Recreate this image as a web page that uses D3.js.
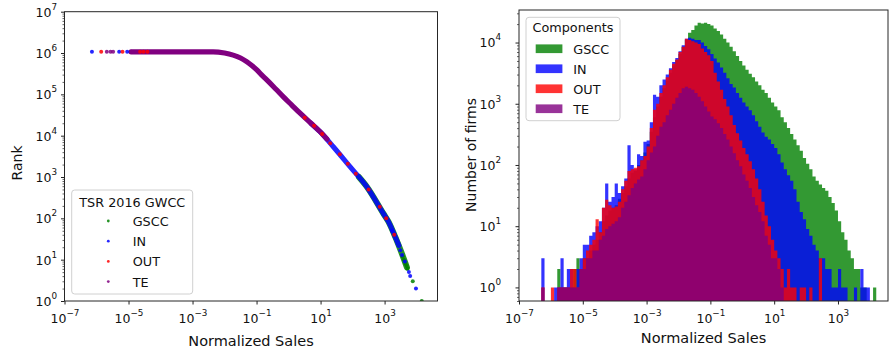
<!DOCTYPE html>
<html>
<head>
<meta charset="utf-8">
<script src="https://cdn.jsdelivr.net/npm/d3@7"></script>
<style>
body { margin: 0; background: #fff; }
svg { display: block; font-family: "DejaVu Sans", sans-serif; }
</style>
</head>
<body>
<svg id="chart" width="890" height="352"></svg>
<script>
// ---------- data ----------
const components = ["GSCC", "IN", "OUT", "TE"];
const xTickExps = [-7, -5, -3, -1, 1, 3];
const rankTickExps = [0, 1, 2, 3, 4, 5, 6, 7];
const firmTickExps = [0, 1, 2, 3, 4];

// left panel, [normalized sales, rank]; the dense parts of the cloud are bands
const teBand = [[1.2e-5, 1.07e6], [4.4e-3, 1.07e6], [0.01, 1.0e6], [0.0186, 8.9e5], [0.0316, 7.6e5],
  [0.049, 6.2e5], [0.071, 5.0e5], [0.102, 3.9e5], [0.141, 3.0e5], [0.209, 2.24e5], [0.398, 1.35e5],
  [0.69, 8.7e4], [1.26, 5.5e4], [2.29, 3.5e4], [5.0, 2.0e4], [9.5, 1.26e4], [15.8, 8300]];
const inBand = [[5.0, 2.0e4], [9.5, 1.26e4], [25, 5400], [83, 1780], [275, 590], [910, 132],
  [1320, 83], [2140, 36], [2800, 22]];
const gsccBand = [[158, 1000], [275, 590], [910, 132], [1320, 83], [2140, 36], [3470, 14], [5000, 6.5]];
const gsccDots = [[14500, 1], [7600, 3], [5200, 6], [4900, 7], [4500, 8], [4000, 10], [3700, 12]];
const inDots = [[7.2e-7, 1.07e6], [5.1e-6, 1.07e6], [9.1e-6, 1.07e6], [9550, 2], [6300, 4], [5750, 5],
  [4300, 9], [3500, 13], [3100, 17], [1700, 50]];
const outDots = [[1.4e-6, 1.07e6], [6.5e-6, 1.07e6], [2.3e-5, 1.07e6], [2.95e-5, 1.07e6], [3.9e-5, 1.07e6],
  [3.2, 27000], [6.3, 17400], [11.2, 11000], [20, 6600], [40, 3550], [71, 2090], [126, 1200],
  [316, 500], [708, 190], [1120, 100], [2000, 40]];
const teDots = [[2.1e-6, 1.07e6], [2.75e-6, 1.07e6], [3.3e-6, 1.07e6], [1.2e-5, 1.07e6]];

// right panel: histogram counts, bins of 0.1 decade starting at 10^-6.3
const binLo = -6.3, binWidth = 0.1;
const gsccCounts = [0,0,0,0,0,2,1,1,1,1,
  2,3,2,3,3,4,5,6,8,12,
  15,18,20,22,28,35,45,60,75,80,
  100,120,160,220,350,600,900,1300,1800,2400,
  3200,4200,5200,6500,8500,11000,14500,16000,19000,21000,
  20500,21000,20000,19000,17000,15500,13500,11500,10000,8500,
  7200,6000,5000,4200,3600,3100,2700,2300,2000,1700,
  1500,1250,1050,900,780,600,500,400,320,260,
  210,170,130,105,85,65,55,48,42,38,
  30,24,18,12,8,6,4,3,2,2,
  1,1,0,0,1];
const inCounts = [3,0,0,0,1,1,3,1,2,2,
  1,2,3,5,5,7,8,10,12,20,
  50,25,30,50,35,45,60,210,100,85,
  150,140,240,250,500,1400,1300,2000,2500,3000,
  3800,4800,5600,7200,9000,11500,12000,11500,11000,11000,
  10000,8800,7800,6500,5500,4700,3900,3200,2600,2100,
  1850,1500,1250,1050,900,780,650,520,420,340,
  290,260,220,190,150,110,85,68,55,40,
  25,17,13,9,7,5,4,3,3,2,
  2,1,1,2,1,1,0,0,1,0,
  2,1,1,0,0];
const outCounts = [1,0,0,1,0,1,1,1,1,2,
  2,1,2,3,4,5,6,13,8,20,
  27,22,20,21,25,40,55,80,85,90,
  95,120,140,200,400,800,1000,1500,2000,2700,
  3600,4500,5300,7000,8500,11500,11000,10500,10000,9500,
  8000,7000,6200,5000,3200,2300,1700,1200,900,650,
  450,330,250,190,150,115,85,60,40,25,
  15,10,6,4,3,2,1,2,1,1,
  0,1,1,0,1,0,0,3,0,0,
  0,0,0,0,0,0,0,0,0,0,
  0,0,0,0,0];
const teCounts = [1,0,0,0,0,1,1,1,1,1,
  1,1,2,2,3,3,4,4,6,7,
  9,10,11,12,14,20,25,32,42,50,
  58,65,85,120,160,200,300,420,500,650,
  800,1000,1250,1500,1800,1900,1800,1700,1500,1300,
  1100,900,750,620,560,480,400,320,260,200,
  155,120,95,70,55,42,30,22,17,12,
  7,5,3,3,2,1,0,0,0,0,
  0,0,0,0,0,0,0,0,0,0,
  0,0,0,0,0,0,0,0,0,0,
  0,0,0,0,0];

// ---------- drawing ----------
const colors = {GSCC: "#008000", IN: "#0000ff", OUT: "#ff0000", TE: "#800080"};
const svg = d3.select("#chart");

const L = {x0: 64.5, x1: 437.5, y0: 11.7, y1: 301};
const R = {x0: 519, x1: 888, y0: 10, y1: 301};

const xL = d3.scaleLog().domain([1e-7, 4.5e4]).range([L.x0, L.x1]);
const yL = d3.scaleLog().domain([1, 1e7]).range([L.y1, L.y0]);
const xR = d3.scaleLog().domain([1e-7, 3.7e4]).range([R.x0, R.x1]);
const yR = d3.scaleLog().domain([0.6, 3.4e4]).range([R.y1, R.y0]);

const defs = svg.append("defs");
[["clipL", L], ["clipR", R]].forEach(([id, p]) => {
  defs.append("clipPath").attr("id", id).append("rect")
    .attr("x", p.x0).attr("y", p.y0).attr("width", p.x1 - p.x0).attr("height", p.y1 - p.y0);
});

function powLabel(text, exp) {
  text.text(null);
  text.append("tspan").text("10");
  text.append("tspan").attr("dy", -7).attr("font-size", 8.8)
    .text(exp < 0 ? "\u2212" + (-exp) : exp);
}

function minorValues(scale) {
  const [lo, hi] = scale.domain();
  const out = [];
  for (let d = Math.floor(Math.log10(lo)); d <= Math.ceil(Math.log10(hi)); d++) {
    for (let m = 2; m <= 9; m++) {
      const v = m * Math.pow(10, d);
      if (v >= lo && v <= hi) out.push(v);
    }
  }
  return out;
}

function drawAxes(p, x, y, yExps, labelGap, xTitle, yTitle, xTitleY, yTitlePos) {
  const gx = svg.append("g").attr("transform", `translate(0,${p.y1})`)
    .call(d3.axisBottom(x).tickValues(xTickExps.map(e => Math.pow(10, e))).tickSize(3.5).tickFormat(() => ""));
  gx.attr("font-size", null).attr("font-family", null);
  gx.select(".domain").remove();
  gx.selectAll(".tick line").attr("stroke", "#222");
  gx.selectAll(".tick text").attr("y", 21.5).attr("dy", null).attr("font-size", 12.5).attr("fill", "#111")
    .each(function (d) { powLabel(d3.select(this), Math.round(Math.log10(d))); });

  const gy = svg.append("g").attr("transform", `translate(${p.x0},0)`)
    .call(d3.axisLeft(y).tickValues(yExps.map(e => Math.pow(10, e))).tickSize(3.5).tickFormat(() => ""));
  gy.attr("font-size", null).attr("font-family", null);
  gy.select(".domain").remove();
  gy.selectAll(".tick line").attr("stroke", "#222");
  gy.selectAll(".tick text").attr("x", -labelGap).attr("dy", "0.35em").attr("font-size", 12.5).attr("fill", "#111")
    .each(function (d) { powLabel(d3.select(this), Math.round(Math.log10(d))); });

  const gm = svg.append("g").attr("transform", `translate(${p.x0},0)`)
    .call(d3.axisLeft(y).tickValues(minorValues(y)).tickSize(2).tickFormat(() => ""));
  gm.select(".domain").remove();
  gm.selectAll(".tick line").attr("stroke", "#222").attr("stroke-width", 0.7);

  svg.append("rect").attr("x", p.x0).attr("y", p.y0)
    .attr("width", p.x1 - p.x0).attr("height", p.y1 - p.y0)
    .attr("fill", "none").attr("stroke", "#262626").attr("stroke-width", 1);

  svg.append("text").attr("x", (p.x0 + p.x1) / 2).attr("y", xTitleY)
    .attr("text-anchor", "middle").attr("font-size", 14.5).attr("fill", "#111").text(xTitle);
  svg.append("text").attr("transform", `translate(${yTitlePos[0]},${yTitlePos[1]}) rotate(-90)`)
    .attr("text-anchor", "middle").attr("font-size", 14).attr("fill", "#111").text(yTitle);
}

// ---- left: rank vs sales ----
const gL = svg.append("g").attr("clip-path", "url(#clipL)");
const bandLine = d3.line().x(d => xL(d[0])).y(d => yL(d[1])).curve(d3.curveMonotoneX);
[[gsccBand, "GSCC", 6], [inBand, "IN", 5], [teBand, "TE", 5.2]].forEach(([pts, k, w]) => {
  gL.append("path").attr("d", bandLine(pts)).attr("fill", "none")
    .attr("stroke", colors[k]).attr("stroke-opacity", k === "TE" ? 1 : 0.85)
    .attr("stroke-width", w).attr("stroke-linecap", "round");
});
[[gsccDots, "GSCC"], [inDots, "IN"], [outDots, "OUT"], [teDots, "TE"]].forEach(([pts, k]) => {
  gL.selectAll(null).data(pts).enter().append("circle")
    .attr("cx", d => xL(d[0])).attr("cy", d => yL(d[1])).attr("r", 2)
    .attr("fill", colors[k]).attr("fill-opacity", 0.85);
});

drawAxes(L, xL, yL, rankTickExps, 7.5, "Normalized Sales", "Rank", 346, [21.5, 163]);

// legend left
const lgL = svg.append("g");
lgL.append("rect").attr("x", 71.7).attr("y", 190).attr("width", 121).attr("height", 104).attr("rx", 3)
  .attr("fill", "#fff").attr("fill-opacity", 0.8).attr("stroke", "#d0d0d0");
lgL.append("text").attr("x", 132.3).attr("y", 206.5).attr("text-anchor", "middle")
  .attr("font-size", 12.8).attr("fill", "#111").text("TSR 2016 GWCC");
components.forEach((k, i) => {
  const cy = 221 + 20.2 * i;
  lgL.append("circle").attr("cx", 108.3).attr("cy", cy).attr("r", 1.4).attr("fill", colors[k]).attr("fill-opacity", 0.85);
  lgL.append("text").attr("x", 132.7).attr("y", cy + 5).attr("font-size", 12.8).attr("fill", "#111").text(k);
});

// ---- right: histograms ----
const gR = svg.append("g").attr("clip-path", "url(#clipR)");
const histArea = d3.area()
  .x(d => xR(Math.pow(10, d.lo)))
  .y0(R.y1)
  .y1(d => d.c > 0 ? yR(d.c) : R.y1 + 2)
  .curve(d3.curveStepAfter);
[[gsccCounts, "GSCC"], [inCounts, "IN"], [outCounts, "OUT"], [teCounts, "TE"]].forEach(([counts, k]) => {
  const pts = counts.map((c, i) => ({lo: binLo + i * binWidth, c}));
  pts.push({lo: binLo + counts.length * binWidth, c: 0});
  gR.append("path").attr("d", histArea(pts)).attr("fill", colors[k]).attr("fill-opacity", 0.8);
});

drawAxes(R, xR, yR, firmTickExps, 18, "Normalized Sales", "Number of firms", 343, [475.5, 155]);

// legend right
const lgR = svg.append("g");
lgR.append("rect").attr("x", 526).attr("y", 17.3).attr("width", 94).attr("height", 103.4).attr("rx", 3)
  .attr("fill", "#fff").attr("fill-opacity", 0.8).attr("stroke", "#d0d0d0");
lgR.append("text").attr("x", 573).attr("y", 32).attr("text-anchor", "middle")
  .attr("font-size", 12.8).attr("fill", "#111").text("Components");
components.forEach((k, i) => {
  const cy = 48.7 + 20 * i;
  lgR.append("rect").attr("x", 535.7).attr("y", cy - 4.3).attr("width", 26.7).attr("height", 8.7)
    .attr("fill", colors[k]).attr("fill-opacity", 0.8);
  lgR.append("text").attr("x", 573.3).attr("y", cy + 5).attr("font-size", 12.8).attr("fill", "#111").text(k);
});
</script>
</body>
</html>
